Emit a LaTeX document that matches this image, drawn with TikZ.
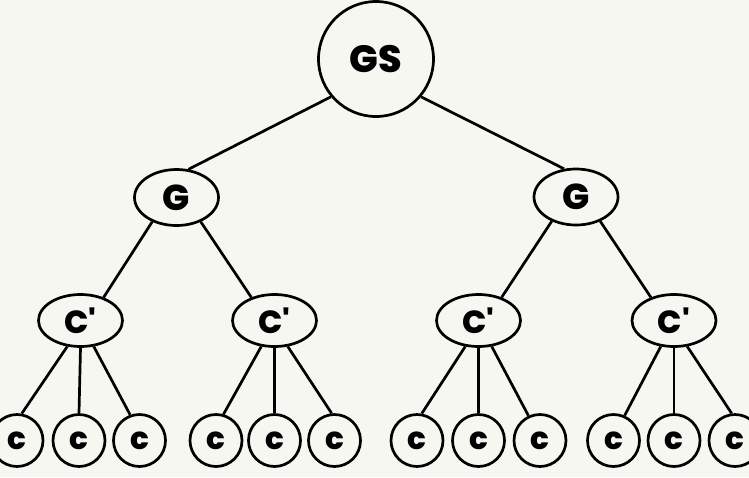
\documentclass[tikz,border=0pt]{standalone}
\usepackage{fontspec}
\setmainfont{Poppins}[BoldFont={Poppins ExtraBold}]
\usetikzlibrary{shapes.geometric}
\definecolor{bgcol}{RGB}{247,247,242}
\begin{document}
\begin{tikzpicture}[x=1pt,y=-1pt,
  lw/.style={line width=2.7pt},
  gsnode/.style={circle,draw,lw,inner sep=0pt,minimum size=115pt,font=\fontsize{38}{40}\selectfont\bfseries},
  gnode/.style={ellipse,draw,lw,inner sep=0pt,minimum width=84pt,minimum height=56pt,font=\fontsize{36}{38}\selectfont\bfseries},
  cpnode/.style={ellipse,draw,lw,inner sep=0pt,minimum width=84pt,minimum height=52pt,font=\fontsize{32}{34}\selectfont\bfseries},
  cnode/.style={circle,draw,lw,inner sep=0pt,minimum size=52pt,font=\fontsize{31}{33}\selectfont\bfseries},
  edge/.style={lw}]
\fill[bgcol] (0,0) rectangle (749,477);
\useasboundingbox (0,0) rectangle (749,477);
\node[gsnode] (GS) at (376,59) {GS};
\node[gnode] (G1) at (176.5,197.5) {G};
\node[gnode] (G2) at (576,197) {G};
\node[cpnode] (P1) at (80.5,320.5) {C\textquotesingle};
\node[cpnode] (P2) at (274.5,320.5) {C\textquotesingle};
\node[cpnode] (P3) at (478.5,320.5) {C\textquotesingle};
\node[cpnode] (P4) at (674,320.5) {C\textquotesingle};
\node[cnode] (c1) at (17,440.5) {c};
\node[cnode] (c2) at (79,440.5) {c};
\node[cnode] (c3) at (139.5,440.5) {c};
\node[cnode] (c4) at (216,440.5) {c};
\node[cnode] (c5) at (274.5,440.5) {c};
\node[cnode] (c6) at (334.5,440.5) {c};
\node[cnode] (c7) at (417,440.5) {c};
\node[cnode] (c8) at (478.5,440.5) {c};
\node[cnode] (c9) at (540,440.5) {c};
\node[cnode] (c10) at (613.5,440.5) {c};
\node[cnode] (c11) at (674,440.5) {c};
\node[cnode] (c12) at (735,440.5) {c};
\draw[edge] (GS.220) -- (G1.67);
\draw[edge] (GS.320) -- (G2.113);
\draw[edge] (G1.225) -- (P1.45);
\draw[edge] (G1.315) -- (P2.135);
\draw[edge] (G2.225) -- (P3.45);
\draw[edge] (G2.315) -- (P4.135);
\draw[edge] (P1.243) -- (c1.80);
\draw[edge] (P1.south) -- (c2.north);
\draw[edge] (P1.297) -- (c3.110);
\draw[edge] (P2.243) -- (c4.74);
\draw[edge] (P2.south) -- (c5.north);
\draw[edge] (P2.297) -- (c6.96);
\draw[edge] (P3.243) -- (c7.80);
\draw[edge] (P3.south) -- (c8.north);
\draw[edge] (P3.297) -- (c9.115);
\draw[edge] (P4.243) -- (c10.66);
\draw[edge] (P4.south) -- (c11.north);
\draw[edge] (P4.297) -- (c12.97);
\end{tikzpicture}
\end{document}
